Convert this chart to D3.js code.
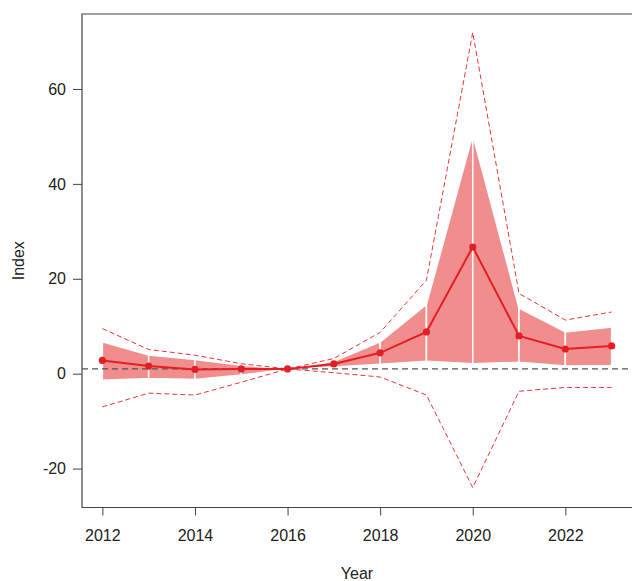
<!DOCTYPE html>
<html>
<head>
<meta charset="utf-8">
<script src="https://cdn.jsdelivr.net/npm/d3@7"></script>
<style>
  html, body { margin: 0; padding: 0; background: #fff; }
  svg { display: block; font-family: "Liberation Sans", Arial, sans-serif; }
</style>
</head>
<body>
<svg id="chart" width="632" height="581"></svg>
<script>
// ---- data ----
const years   = [2012, 2013, 2014, 2015, 2016, 2017, 2018, 2019, 2020, 2021, 2022, 2023];
const index   = [2.8, 1.6, 0.9, 1.0, 1.0, 2.05, 4.4, 8.8, 26.7, 7.95, 5.2, 5.85];
const bandHi  = [6.7, 3.95, 3.0, 1.8, 1.0, 2.6, 6.7, 14.6, 50.3, 13.8, 8.8, 9.85];
const bandLo  = [-1.4, -1.0, -1.2, -0.3, 1.0, 1.4, 2.0, 2.6, 2.1, 2.4, 1.6, 1.7];
const ciHi    = [9.5, 5.1, 3.9, 2.1, 1.0, 3.2, 8.7, 19.7, 71.9, 16.9, 11.3, 13.0];
const ciLo    = [-7.0, -4.1, -4.5, -1.8, 1.0, 0.2, -0.7, -4.5, -24.0, -3.7, -2.9, -2.9];
const baseline = 1;
const xTicks  = [2012, 2014, 2016, 2018, 2020, 2022];
const yTicks  = [-20, 0, 20, 40, 60];

// ---- layout ----
const svg = d3.select("#chart");
const pL = 82, pR = 632, pT = 14, pB = 507.5;
const FS = 16;

const x = d3.scaleLinear().domain([2012 - 0.44, 2023 + 0.44]).range([pL, pR]);
const y = d3.scaleLinear().domain([-28.2, 75.8]).range([pB, pT]);

const bandFill = "#f08e8e";
const red = "#e31e24";

// band segments
const segs = d3.range(years.length - 1).map(i => [
  [years[i], bandHi[i]], [years[i+1], bandHi[i+1]],
  [years[i+1], bandLo[i+1]], [years[i], bandLo[i]]
]);
svg.append("g").selectAll("path").data(segs).join("path")
  .attr("d", d => "M" + d.map(p => [x(p[0]), y(p[1])].join(",")).join("L") + "Z")
  .attr("fill", bandFill)
  .attr("stroke", "#fff")
  .attr("stroke-width", 1.5);

// CI dashed lines
const line = d3.line().x((d, i) => x(years[i])).y(d => y(d));
[ciHi, ciLo].forEach(arr => {
  svg.append("path").datum(arr)
    .attr("d", line)
    .attr("fill", "none")
    .attr("stroke", "#e8353a")
    .attr("stroke-width", 1)
    .attr("stroke-dasharray", "5,3");
});

// baseline dashed
svg.append("line")
  .attr("x1", pL).attr("x2", pR)
  .attr("y1", y(baseline)).attr("y2", y(baseline))
  .attr("stroke", "#555").attr("stroke-width", 1.3)
  .attr("stroke-dasharray", "6,4");

// center line
svg.append("path").datum(index)
  .attr("d", line)
  .attr("fill", "none")
  .attr("stroke", red)
  .attr("stroke-width", 2);

svg.append("g").selectAll("circle").data(index).join("circle")
  .attr("cx", (d, i) => x(years[i]))
  .attr("cy", d => y(d))
  .attr("r", 3.6)
  .attr("fill", red);

// box (left, top, bottom; right edge is off canvas)
svg.append("path")
  .attr("d", `M${pR + 2},${pT}H${pL}V${pB}H${pR + 2}`)
  .attr("fill", "none").attr("stroke", "#444").attr("stroke-width", 1.2);

// axes
const fmt = d => String(d);
const xAxis = d3.axisBottom(x).tickValues(xTicks).tickFormat(fmt).tickSize(8).tickPadding(14.5);
const gx = svg.append("g").attr("transform", `translate(0,${pB})`).call(xAxis);
gx.attr("font-size", FS).attr("font-family", "Liberation Sans, Arial, sans-serif");
gx.select(".domain").remove();
gx.selectAll("line").attr("stroke", "#444");
gx.selectAll("text").attr("fill", "#222");

const yAxis = d3.axisLeft(y).tickValues(yTicks).tickFormat(fmt).tickSize(9).tickPadding(7);
const gy = svg.append("g").attr("transform", `translate(${pL},0)`).call(yAxis);
gy.attr("font-size", FS).attr("font-family", "Liberation Sans, Arial, sans-serif");
gy.select(".domain").remove();
gy.selectAll("line").attr("stroke", "#444");
gy.selectAll("text").attr("fill", "#222");

// axis titles
svg.append("text").attr("x", 357).attr("y", 579)
  .attr("text-anchor", "middle").attr("font-size", FS).attr("fill", "#222")
  .text("Year");
svg.append("text")
  .attr("transform", `translate(23.5,${(pT + pB) / 2}) rotate(-90)`)
  .attr("text-anchor", "middle").attr("font-size", FS).attr("fill", "#222")
  .text("Index");
</script>
</body>
</html>
